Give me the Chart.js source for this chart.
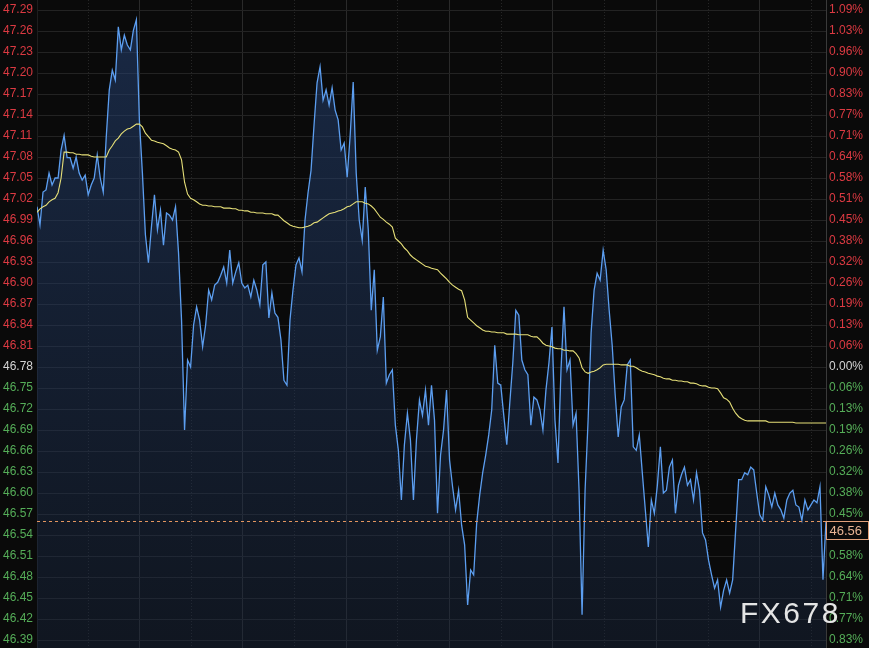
<!DOCTYPE html>
<html><head><meta charset="utf-8">
<script src="https://cdn.jsdelivr.net/npm/chart.js@4.4.1/dist/chart.umd.min.js"></script>
<style>html,body{margin:0;padding:0;background:#0a0a0a;overflow:hidden}#wrap{width:869px;height:648px;position:relative}</style>
</head><body><div id="wrap"><canvas id="c" width="869" height="648"></canvas></div>
<script>
// price (blue) series, one value per time step
const prices = [
47.009,46.983,47.030,47.033,47.057,47.040,47.050,47.050,47.090,47.111,
47.079,47.079,47.064,47.080,47.057,47.047,47.054,47.026,47.040,47.050,
47.083,47.050,47.030,47.109,47.176,47.204,47.190,47.266,47.233,47.254,
47.240,47.233,47.261,47.276,47.133,47.057,46.969,46.929,46.980,47.026,
46.976,47.004,46.954,47.000,46.997,46.990,47.009,46.943,46.847,46.690,
46.790,46.780,46.840,46.866,46.847,46.809,46.840,46.890,46.876,46.897,
46.901,46.911,46.923,46.900,46.947,46.900,46.916,46.929,46.900,46.893,
46.897,46.880,46.904,46.890,46.869,46.926,46.930,46.850,46.886,46.857,
46.851,46.819,46.761,46.754,46.847,46.890,46.926,46.936,46.916,46.990,
47.029,47.061,47.126,47.186,47.209,47.161,47.176,47.154,47.179,47.147,
47.133,47.090,47.100,47.051,47.111,47.187,47.057,46.990,46.961,47.037,
46.976,46.861,46.919,46.804,46.823,46.880,46.757,46.769,46.776,46.697,
46.661,46.590,46.669,46.714,46.676,46.590,46.676,46.733,46.711,46.747,
46.697,46.754,46.704,46.571,46.654,46.690,46.747,46.647,46.609,46.576,
46.604,46.554,46.526,46.440,46.490,46.483,46.557,46.597,46.629,46.654,
46.683,46.719,46.811,46.757,46.754,46.711,46.669,46.729,46.786,46.861,
46.854,46.790,46.776,46.769,46.697,46.737,46.733,46.719,46.690,46.747,
46.786,46.837,46.704,46.643,46.776,46.866,46.776,46.790,46.697,46.714,
46.604,46.426,46.604,46.704,46.829,46.890,46.914,46.904,46.947,46.919,
46.861,46.811,46.740,46.680,46.723,46.733,46.783,46.790,46.666,46.661,
46.683,46.629,46.576,46.523,46.590,46.571,46.611,46.666,46.600,46.604,
46.637,46.647,46.571,46.611,46.626,46.637,46.611,46.619,46.590,46.629,
46.604,46.543,46.533,46.504,46.483,46.464,46.476,46.437,46.461,46.476,
46.457,46.476,46.547,46.619,46.619,46.629,46.626,46.637,46.633,46.600,
46.569,46.561,46.609,46.597,46.580,46.600,46.583,46.576,46.564,46.590,
46.600,46.604,46.583,46.580,46.561,46.590,46.576,46.583,46.590,46.586,
46.609,46.476,46.560
];
// average price (yellow) series
const avgPrices = [
47.001,47.006,47.009,47.011,47.016,47.019,47.021,47.029,47.050,47.087,
47.087,47.086,47.086,47.084,47.084,47.083,47.083,47.083,47.081,47.080,
47.080,47.080,47.080,47.080,47.090,47.096,47.103,47.107,47.113,47.117,
47.120,47.121,47.124,47.127,47.127,47.123,47.114,47.109,47.104,47.103,
47.101,47.100,47.099,47.096,47.093,47.091,47.090,47.087,47.076,47.044,
47.027,47.021,47.019,47.016,47.013,47.011,47.011,47.010,47.010,47.009,
47.009,47.009,47.007,47.007,47.007,47.006,47.006,47.004,47.004,47.003,
47.003,47.001,47.001,47.000,47.000,47.000,46.999,46.999,46.999,46.997,
46.997,46.993,46.989,46.986,46.983,46.981,46.980,46.979,46.979,46.980,
46.981,46.983,46.986,46.987,46.990,46.993,46.996,46.999,47.000,47.001,
47.003,47.004,47.006,47.009,47.010,47.013,47.016,47.016,47.016,47.014,
47.013,47.010,47.006,47.000,46.994,46.991,46.987,46.984,46.980,46.964,
46.960,46.956,46.950,46.946,46.940,46.936,46.933,46.930,46.927,46.924,
46.923,46.921,46.920,46.919,46.914,46.910,46.906,46.901,46.897,46.894,
46.891,46.889,46.876,46.851,46.847,46.843,46.839,46.836,46.833,46.831,
46.831,46.830,46.830,46.829,46.829,46.829,46.827,46.827,46.827,46.827,
46.826,46.826,46.826,46.826,46.824,46.823,46.823,46.819,46.814,46.811,
46.810,46.809,46.807,46.806,46.806,46.804,46.804,46.803,46.803,46.799,
46.793,46.779,46.773,46.771,46.773,46.774,46.776,46.779,46.783,46.784,
46.784,46.784,46.784,46.784,46.783,46.783,46.783,46.781,46.781,46.779,
46.776,46.774,46.773,46.771,46.770,46.769,46.767,46.766,46.764,46.763,
46.763,46.761,46.761,46.760,46.760,46.759,46.759,46.757,46.757,46.756,
46.754,46.753,46.753,46.751,46.750,46.750,46.749,46.743,46.736,46.734,
46.730,46.721,46.714,46.709,46.706,46.704,46.703,46.703,46.703,46.703,
46.703,46.703,46.703,46.701,46.701,46.701,46.701,46.701,46.701,46.701,
46.701,46.701,46.700,46.700,46.700,46.700,46.700,46.700,46.700,46.700,
46.700,46.700,46.700
];
// time steps (categories)
const categories = prices.map((_, i) => i);
// price tick labels
const priceTicks = [47.29,47.26,47.23,47.20,47.17,47.14,47.11,47.08,47.05,47.02,46.99,46.96,46.93,46.90,46.87,46.84,46.81,46.78,46.75,46.72,46.69,46.66,46.63,46.60,46.57,46.54,46.51,46.48,46.45,46.42,46.39];
const refPrice = 46.78;      // previous close (0.00%)
const lastPrice = 46.56;     // latest price marker
const yTop = 47.3043, yBottom = 46.3786;
// time grid (in time steps)
const majorGrid = [34, 68.33, 102.67, 137, 171.33, 205.67, 240];
const minorGrid = [17, 51.17, 85.5, 119.83, 154.17, 188.5, 222.83, 257.17];

const RED = '#dc3a42', GREEN = '#55ad58', NEUTRAL = '#d4d4d4';
function tickColor(v) {
  const a = Math.round(v * 100), b = Math.round(refPrice * 100);
  return a > b ? RED : (a < b ? GREEN : NEUTRAL);
}
const FONT = {family: "'Liberation Sans', Arial, sans-serif", size: 12};

const bgPlugin = {
  id: 'bg',
  beforeDraw(chart) {
    const c = chart.ctx;
    c.save(); c.fillStyle = '#0a0a0a'; c.fillRect(0, 0, chart.width, chart.height); c.restore();
  }
};
const lastPlugin = {
  id: 'last',
  afterDatasetsDraw(chart) {
    const c = chart.ctx, ca = chart.chartArea;
    const y = Math.round(chart.scales.y.getPixelForValue(lastPrice)) + 0.5;
    c.save();
    c.strokeStyle = '#e2955f'; c.lineWidth = 1; c.setLineDash([3, 3]);
    c.beginPath(); c.moveTo(ca.left, y); c.lineTo(ca.right, y); c.stroke();
    c.setLineDash([]);
    const bx = Math.round(ca.right) + 0.5, bw = chart.width - bx - 0.5;
    c.fillStyle = '#0a0a0a';
    c.fillRect(bx, y, bw, 18);
    c.strokeStyle = '#e2a07a';
    c.strokeRect(bx, y, bw, 18);
    c.fillStyle = '#e8b494'; c.font = "13px 'Liberation Sans', Arial, sans-serif";
    c.textBaseline = 'middle'; c.textAlign = 'left';
    c.fillText(lastPrice.toFixed(2), bx + 3, y + 9.5);
    c.restore();
  }
};
const wmPlugin = {
  id: 'wm',
  afterDraw(chart) {
    const c = chart.ctx;
    c.save();
    c.font = "30px 'Liberation Sans', Arial, sans-serif";
    try { c.letterSpacing = '2.5px'; } catch (e) {}
    c.fillStyle = 'rgba(240,240,240,0.95)';
    c.textBaseline = 'alphabetic'; c.textAlign = 'left';
    c.fillText('FX678', 740, 623);
    c.restore();
  }
};
function noPad(s) { s.paddingTop = 0; s.paddingBottom = 0; }

new Chart(document.getElementById('c'), {
  type: 'line',
  data: {
    labels: categories,
    datasets: [
      {data: avgPrices, borderColor: '#e6df78', borderWidth: 1.1, pointRadius: 0, fill: false, tension: 0},
      {data: prices, borderColor: '#5c9ef0', borderWidth: 1.3, pointRadius: 0, tension: 0,
        fill: 'start',
        backgroundColor: (ctx) => {
          const ch = ctx.chart, ca = ch.chartArea;
          if (!ca) return 'rgba(30,50,90,0.4)';
          const g = ch.ctx.createLinearGradient(0, ca.top, 0, ca.bottom);
          g.addColorStop(0, 'rgba(40,72,128,0.50)');
          g.addColorStop(1, 'rgba(25,40,66,0.40)');
          return g;
        }}
    ]
  },
  options: {
    responsive: false, animation: false, events: [],
    layout: {padding: {left: 3, right: 0, top: 0, bottom: 0}},
    plugins: {legend: {display: false}, tooltip: {enabled: false}},
    scales: {
      x: {
        type: 'linear', min: 0, max: categories.length - 1, position: 'bottom',
        afterBuildTicks: s => { s.ticks = majorGrid.map(v => ({value: v})); },
        afterFit: s => { s.height = 0; s.paddingLeft = 0; s.paddingRight = 0; },
        ticks: {display: false},
        grid: {color: '#2a2a2a', lineWidth: 1, drawTicks: false},
        border: {display: false}
      },
      x2: {
        type: 'linear', min: 0, max: categories.length - 1, position: 'bottom',
        afterBuildTicks: s => { s.ticks = minorGrid.map(v => ({value: v})); },
        afterFit: s => { s.height = 0; s.paddingLeft = 0; s.paddingRight = 0; },
        ticks: {display: false},
        grid: {color: '#262626', lineWidth: 1, drawTicks: false},
        border: {display: false, dash: [1, 2]}
      },
      y: {
        position: 'left', min: yBottom, max: yTop,
        afterBuildTicks: s => { s.ticks = priceTicks.map(v => ({value: v})); },
        afterFit: s => { s.width = 34; noPad(s); },
        ticks: {autoSkip: false, crossAlign: 'far', padding: 0, font: FONT,
          color: ctx => tickColor(ctx.tick.value), callback: v => Number(v).toFixed(2)},
        grid: {color: '#232323', lineWidth: 1, drawTicks: false},
        border: {color: '#1e1e1e'}
      },
      yR: {
        position: 'right', min: yBottom, max: yTop,
        afterBuildTicks: s => { s.ticks = priceTicks.map(v => ({value: v})); },
        afterFit: s => { s.width = 43; noPad(s); },
        ticks: {autoSkip: false, crossAlign: 'near', padding: 3, font: FONT,
          color: ctx => tickColor(ctx.tick.value),
          callback: v => (Math.abs(v - refPrice) / refPrice * 100).toFixed(2) + '%'},
        grid: {display: false, drawTicks: false},
        border: {color: '#3a3a3a'}
      }
    }
  },
  plugins: [bgPlugin, lastPlugin, wmPlugin]
});
</script></body></html>
